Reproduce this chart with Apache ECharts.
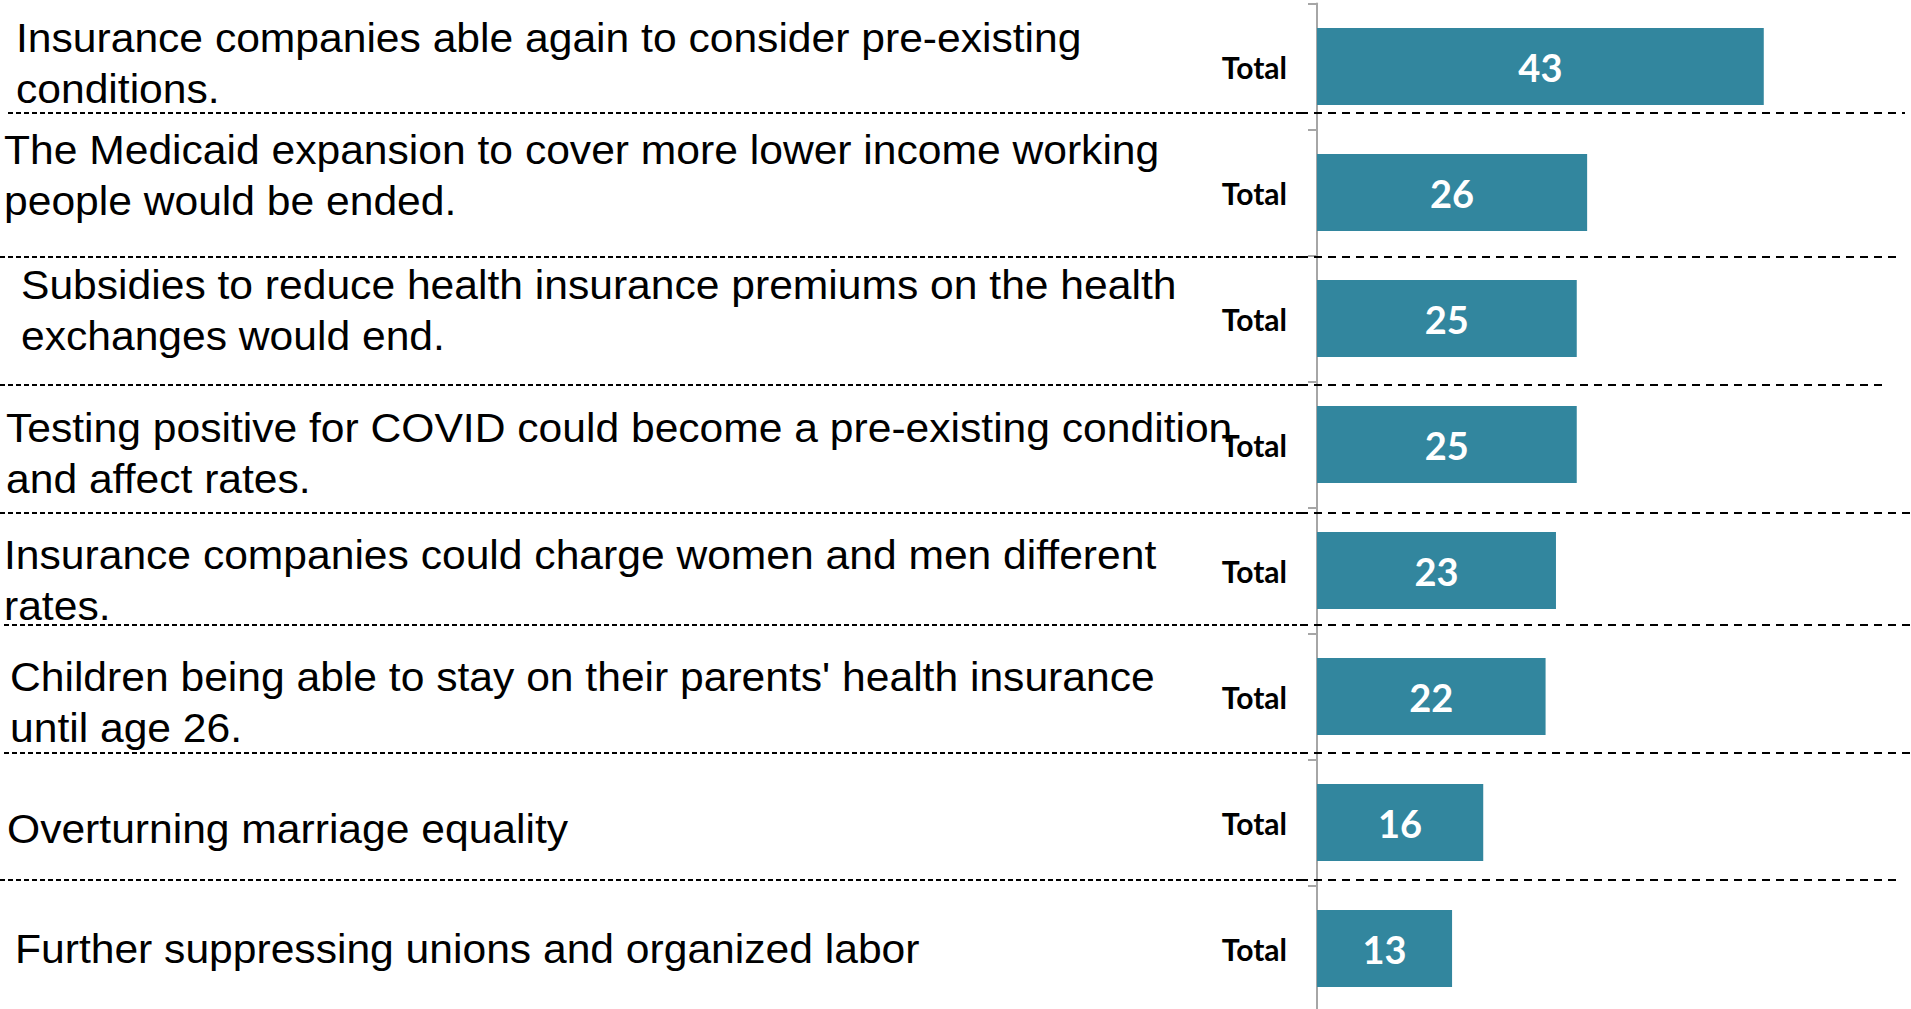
<!DOCTYPE html>
<html>
<head>
<meta charset="utf-8">
<script src="https://cdn.jsdelivr.net/npm/echarts@6/dist/echarts.min.js"></script>
<style>
  html, body { margin: 0; padding: 0; background: #fff; }
  #chart { width: 1911px; height: 1009px; }
</style>
</head>
<body>
<div id="chart"></div>
<script>
// statements (line breaks as on the slide)
var categories = [
  "Insurance companies able again to consider pre-existing\nconditions.",
  "The Medicaid expansion to cover more lower income working\npeople would be ended.",
  "Subsidies to reduce health insurance premiums on the health\nexchanges would end.",
  "Testing positive for COVID could become a pre-existing condition\nand affect rates.",
  "Insurance companies could charge women and men different\nrates.",
  "Children being able to stay on their parents' health insurance\nuntil age 26.",
  "Overturning marriage equality",
  "Further suppressing unions and organized labor"
];
var groupLabel = "Total";
var values = [43, 26, 25, 25, 23, 22, 16, 13];

// text box placement on the slide (left edge, offset from row centre)
var textX = [16, 4, 21, 6, 4, 10, 7, 15];
var textDy = [-3, -17, -8, 9, 10, 6, 7, 1];
// dashed separators: y, start x, end x
var sepY = [113, 257, 385, 513, 625, 753, 880];
var sepX0 = [8, 0, 0, 0, 4, 4, 0];
var sepX1 = [1905, 1899, 1888, 1911, 1911, 1911, 1899];

var chart = echarts.init(document.getElementById("chart"), null, { renderer: "svg" });

chart.setOption({
  backgroundColor: "#fff",
  animation: false,
  grid: {
    left: 1317,
    top: 3.5,
    width: 519.5,
    height: 1008,
    containLabel: false,
    outerBoundsMode: "none"
  },
  xAxis: {
    type: "value",
    min: 0,
    max: 50,
    show: false
  },
  yAxis: {
    type: "category",
    inverse: true,
    data: categories,
    axisLine: { show: true, lineStyle: { color: "#a6a6a6", width: 2 } },
    axisTick: { show: true, length: 9, lineStyle: { color: "#a6a6a6", width: 2 } },
    axisLabel: {
      margin: 30,
      color: "#000",
      fontFamily: "Lato",
      fontWeight: "bold",
      fontSize: 30,
      formatter: function () {
        return groupLabel;
      }
    },
    splitLine: { show: false }
  },
  series: [
    {
      name: groupLabel,
      type: "bar",
      data: values,
      barWidth: 77,
      itemStyle: { color: "#32869e" },
      label: {
        show: true,
        position: "inside",
        color: "#fff",
        fontFamily: "Lato",
        fontWeight: "bold",
        fontSize: 38
      }
    }
  ]
});

// slide text boxes + dashed separators
var graphics = [];
categories.forEach(function (txt, i) {
  var yc = chart.convertToPixel({ yAxisIndex: 0 }, txt);
  graphics.push({
    type: "text",
    z: 10,
    x: textX[i],
    y: yc + textDy[i],
    scaleX: 1.065, // slide text is drawn a little wide
    style: {
      text: txt,
      x: 0,
      y: 0,
      align: "left",
      verticalAlign: "middle",
      lineHeight: 51,
      fontFamily: "'Liberation Sans', Arial, sans-serif",
      fontSize: 40,
      fill: "#000"
    }
  });
});
sepY.forEach(function (y, i) {
  // left part is the finer dashed border of the text box
  graphics.push({
    type: "line",
    z: 5,
    shape: { x1: sepX0[i], y1: y, x2: 1300, y2: y },
    style: { stroke: "#000", lineWidth: 2, lineDash: [5, 3] }
  });
  graphics.push({
    type: "line",
    z: 5,
    shape: { x1: 1300, y1: y, x2: sepX1[i], y2: y },
    style: { stroke: "#000", lineWidth: 2, lineDash: [8, 6] }
  });
});
chart.setOption({ graphic: graphics });
</script>
</body>
</html>
